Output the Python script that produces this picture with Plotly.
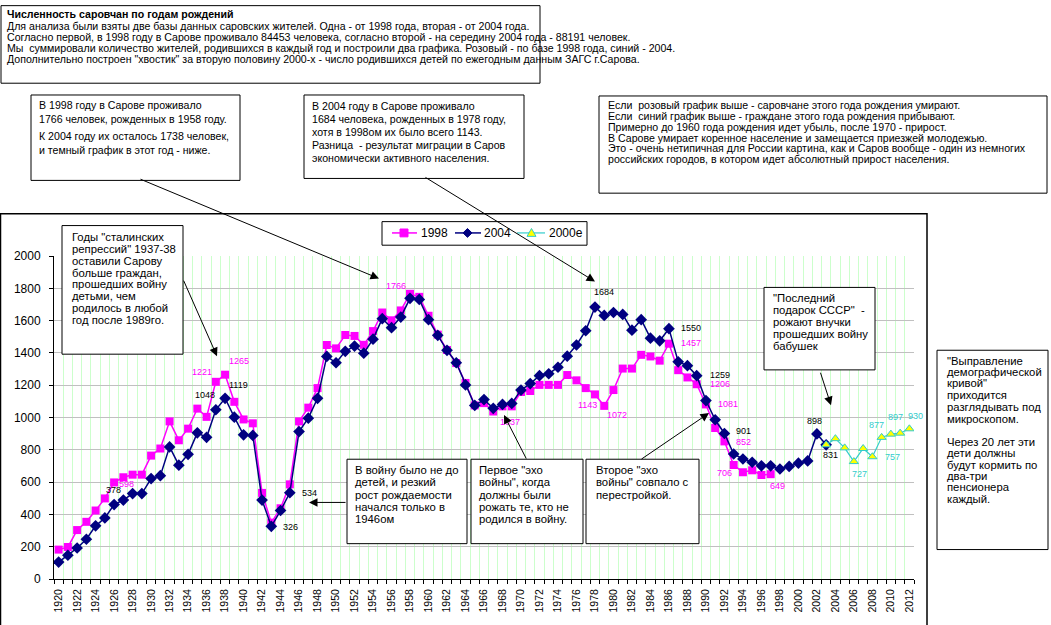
import plotly.graph_objects as go

# ---------------- data ----------------
years_1998 = list(range(1920, 1998))
values_1998 = [182, 198, 303, 354, 424, 499, 598, 630, 646, 646,
               764, 808, 976, 859, 931, 1055, 1004, 1221, 1265, 1097,
               988, 964, 533, 349, 438, 586, 976, 1061, 1182, 1449,
               1428, 1511, 1505, 1450, 1535, 1650, 1602, 1663, 1766, 1747,
               1630, 1513, 1418, 1337, 1214, 1075, 1089, 1037, 1069, 1069,
               1158, 1164, 1202, 1202, 1202, 1263, 1230, 1182, 1143, 1072,
               1170, 1303, 1303, 1388, 1378, 1352, 1457, 1293, 1248, 1206,
               1081, 935, 852, 706, 661, 673, 644, 649]

years_2004 = list(range(1920, 2004))
values_2004 = [105, 147, 192, 246, 329, 378, 461, 489, 529, 529,
               622, 640, 818, 705, 772, 905, 877, 1048, 1119, 1002,
               893, 889, 489, 326, 424, 534, 913, 996, 1119, 1378,
               1339, 1410, 1442, 1398, 1485, 1612, 1556, 1622, 1738, 1731,
               1606, 1509, 1416, 1339, 1202, 1075, 1111, 1057, 1081, 1087,
               1170, 1210, 1259, 1271, 1311, 1380, 1449, 1537, 1684, 1632,
               1650, 1638, 1541, 1606, 1491, 1475, 1550, 1345, 1321, 1259,
               1105, 986, 901, 774, 743, 723, 701, 701, 681, 697,
               717, 731, 898, 831]

years_2000e = list(range(2003, 2013))
values_2000e = [831, 869, 812, 727, 808, 757, 877, 897, 903, 930]

series_names = ["1998", "2004", "2000e"]

tick_years = list(range(1920, 2013, 2))
tick_labels = [str(y) for y in tick_years]
y_ticks = list(range(0, 2001, 200))

# years that carry a value label
label_years_1998 = [1926, 1937, 1938, 1958, 1967, 1978, 1979, 1986, 1989, 1990, 1992, 1993, 1997]
label_years_2004 = [1925, 1937, 1938, 1943, 1945, 1978, 1986, 1989, 1992, 2002, 2003]
label_years_2000e = [2006, 2008, 2009, 2010, 2012]

# ---------------- layout helpers (pixel geometry) ----------------
L, R, T, B = 54, 914, 256, 585
W, H = 1051, 625
FONT = "Liberation Sans, Arial, sans-serif"


def px(x):
    return (x - L) / (R - L)


def py(y):
    return (B - y) / (B - T)


# label offsets (pixels: dx right, dy up)
off_1998 = [(12, -2), (-14, 10), (14, 14), (-14, 8), (17, -10), (-7, -11), (13, -9),
            (22, 1), (23, 0), (22, 0), (19, -1), (-9, -8), (7, -12)]
off_2004 = [(9, 28), (-11, 15), (13, 13), (19, -1), (20, 0), (9, 15), (22, 1),
            (23, 1), (19, 2), (-2, 13), (4, -10)]
off_2000e = [(6, -12), (20, 0), (-5, 12), (5, 17), (6, 13)]

PINK = "#FF00FF"
NAVY = "#000080"
TEAL = "#33CCCC"
YELLOW = "#FFFF00"

fig = go.Figure()
fig.add_trace(go.Scatter(x=years_1998, y=values_1998, name=series_names[0], mode="lines+markers",
                         line=dict(color=PINK, width=1.5), showlegend=False,
                         marker=dict(symbol="square", size=8, color=PINK)))
fig.add_trace(go.Scatter(x=years_2004, y=values_2004, name=series_names[1], mode="lines+markers",
                         line=dict(color=NAVY, width=1.5), showlegend=False,
                         marker=dict(symbol="diamond", size=9, color=NAVY)))
fig.add_trace(go.Scatter(x=years_2000e, y=values_2000e, name=series_names[2], mode="lines+markers",
                         line=dict(color=TEAL, width=1.2), showlegend=False,
                         marker=dict(symbol="triangle-up", size=8, color=YELLOW,
                                     line=dict(color=TEAL, width=1))))

annotations = []
shapes = []


def add_labels(years, values, label_years, offsets, color):
    lookup = dict(zip(years, values))
    for yr, (dx, dy) in zip(label_years, offsets):
        v = lookup[yr]
        annotations.append(dict(x=yr, y=v, xref="x", yref="y", text=str(v), showarrow=False,
                                xshift=dx, yshift=dy, font=dict(family=FONT, size=9, color=color)))


add_labels(years_1998, values_1998, label_years_1998, off_1998, PINK)
add_labels(years_2004, values_2004, label_years_2004, off_2004, "black")
add_labels(years_2000e, values_2000e, label_years_2000e, off_2000e, TEAL)


def box(x0, y0, x1, y1, width=1):
    shapes.append(dict(type="rect", xref="paper", yref="paper",
                       x0=px(x0), x1=px(x1), y0=py(y1), y1=py(y0),
                       line=dict(color="black", width=width), fillcolor="white", layer="above"))


def text_lines(x, ys, lines, size, bold_first=False):
    for i, (yy, t) in enumerate(zip(ys, lines)):
        if not t:
            continue
        txt = "<b>%s</b>" % t if (bold_first and i == 0) else t
        annotations.append(dict(x=px(x - 2), y=py(yy), xref="paper", yref="paper", text=txt,
                                showarrow=False, xanchor="left", yanchor="middle",
                                font=dict(family=FONT, size=size, color="black")))


def arrow(tail, tip):
    annotations.append(dict(x=px(tip[0]), y=py(tip[1]), xref="paper", yref="paper", text="",
                            showarrow=True, axref="pixel", ayref="pixel",
                            ax=tail[0] - tip[0], ay=tail[1] - tip[1],
                            arrowhead=2, arrowsize=1.7, arrowwidth=1, arrowcolor="black",
                            standoff=0, startstandoff=0))


def poly(points, fill, line_color, lw=1):
    path = "M " + " L ".join("%.5f,%.5f" % (px(a), py(b)) for a, b in points) + " Z"
    shapes.append(dict(type="path", xref="paper", yref="paper", path=path, fillcolor=fill,
                       line=dict(color=line_color, width=lw), layer="above"))


SMALL = 10.6
MID = 11.3

# chart border
shapes.append(dict(type="rect", xref="paper", yref="paper", x0=px(0.5), x1=px(927),
                   y0=py(640), y1=py(213), line=dict(color="black", width=1.5), layer="above"))

# ---- legend (drawn) ----
box(382, 221, 587, 245)
LY = 232.5
for (x0, x1), col, lw in [((392, 417), PINK, 1.5), ((455, 481), NAVY, 1.5), ((517, 545), TEAL, 1.2)]:
    shapes.append(dict(type="line", xref="paper", yref="paper", x0=px(x0), x1=px(x1),
                       y0=py(LY), y1=py(LY), line=dict(color=col, width=lw), layer="above"))
poly([(400, LY - 4), (408, LY - 4), (408, LY + 4), (400, LY + 4)], PINK, PINK)
poly([(467.5, LY - 4.5), (472, LY), (467.5, LY + 4.5), (463, LY)], NAVY, NAVY)
poly([(531.5, LY - 4.5), (536, LY + 3.5), (527, LY + 3.5)], YELLOW, TEAL)
for xt, name in zip([421, 484, 549], series_names):
    annotations.append(dict(x=px(xt - 2), y=py(LY), xref="paper", yref="paper", text=name,
                            showarrow=False, xanchor="left", yanchor="middle",
                            font=dict(family=FONT, size=12, color="black")))

# top info box
box(1, 1, 540, 80)
text_lines(7, [10, 22, 33, 44.5, 55], [
    "Численность саровчан по годам рождений",
    "Для анализа были взяты две базы данных саровских жителей. Одна - от 1998 года, вторая - от 2004 года.",
    "Согласно первой, в 1998 году в Сарове проживало 84453 человека, согласно второй - на середину 2004 года - 88191 человек.",
    "Мы  суммировали количество жителей, родившихся в каждый год и построили два графика. Розовый - по базе 1998 года, синий - 2004.",
    "Дополнительно построен \"хвостик\" за вторую половину 2000-х - число родившихся детей по ежегодным данным ЗАГС г.Сарова.",
], SMALL, bold_first=True)

# box 1
box(31, 92, 240, 179)
text_lines(39, [102, 116, 134, 148], [
    "В 1998 году в Сарове проживало",
    "1766 человек, рожденных в 1958 году.",
    "К 2004 году их осталось 1738 человек,",
    "и темный график в этот год - ниже.",
], SMALL)
arrow((139, 179), (379, 279))

# box 2
box(304, 92, 524, 177)
text_lines(312, [103, 116.5, 130, 143, 156.5], [
    "В 2004 году в Сарове проживало",
    "1684 человека, рожденных в 1978 году,",
    "хотя в 1998ом их было всего 1143.",
    "Разница  - результат миграции в Саров",
    "экономически активного населения.",
], SMALL)
arrow((424, 177), (595, 282))

# box 4
box(599, 93, 1047, 192)
text_lines(608, [102.5, 113.5, 124.5, 135.5, 146, 157], [
    "Если  розовый график выше - саровчане этого года рождения умирают.",
    "Если  синий график выше - граждане этого года рождения прибывают.",
    "Примерно до 1960 года рождения идет убыль, после 1970 - прирост.",
    "В Сарове умирает коренное население и замещается приезжей молодежью.",
    "Это - очень нетипичная для России картина, как и Саров вообще - один из немногих",
    "российских городов, в котором идет абсолютный прирост населения.",
], SMALL)

# box 5
box(62, 225, 183, 356)
text_lines(72, [237, 249, 261, 273, 285, 297, 309, 321.5], [
    "Годы \"сталинских", "репрессий\" 1937-38", "оставили Сарову", "больше граждан,",
    "прошедших войну", "детьми, чем", "родилось в любой", "год после 1989го.",
], MID)
arrow((183, 281), (217, 358))

# box 6
box(347, 463, 467, 549)
text_lines(355, [474, 486.5, 499, 511.5, 524], [
    "В войну было не до", "детей, и резкий", "рост рождаемости", "начался только в", "1946ом",
], MID)
arrow((347, 507), (309, 507))

# box 7
box(471, 463, 583, 549)
text_lines(479, [474, 486.5, 499, 511.5, 524], [
    "Первое \"эхо", "войны\", когда", "должны были", "рожать те, кто не", "родился в войну.",
], MID)
arrow((527, 463), (504, 418))

# box 8
box(586, 463, 699, 549)
text_lines(596, [474, 486.5, 499], [
    "Второе \"эхо", "войны\" совпало с", "перестройкой.",
], MID)
arrow((640, 463), (709, 416))

# box 9
box(764, 288, 875, 372)
text_lines(773, [299, 310.5, 323, 335.5, 347.5], [
    "\"Последний", "подарок СССР\"  -", "рожают внучки", "прошедших войну", "бабушек",
], MID)
arrow((820, 374), (831, 408))

# box 10
box(937, 352, 1048, 555)
text_lines(947, [363, 374.5, 385.5, 398, 410, 422, 434, 445, 457, 468.5, 480, 491.5, 503.5], [
    "\"Выправление", "демографической", "кривой\"", "приходится", "разглядывать под",
    "микроскопом.", "", "Через 20 лет эти", "дети должны", "будут кормить по",
    "два-три", "пенсионера", "каждый.",
], MID)

fig.update_layout(
    width=W, height=H, autosize=False,
    margin=dict(l=L, r=W - R, t=T, b=H - B, pad=0),
    paper_bgcolor="white", plot_bgcolor="white",
    font=dict(family=FONT, size=12, color="black"),
    showlegend=False,
    xaxis=dict(range=[1919.5, 2012.5], tickmode="array", tickvals=tick_years, ticktext=tick_labels,
               tickangle=-90, ticks="", showgrid=False, zeroline=False,
               showline=True, linecolor="black", linewidth=1,
               tickfont=dict(family=FONT, size=10.5, color="black"), ticklabelstandoff=5,
               minor=dict(tickmode="linear", tick0=1919.5, dtick=1, ticks="outside", ticklen=4,
                          tickcolor="black", showgrid=True, gridcolor="#CCFFCC", gridwidth=1)),
    yaxis=dict(range=[0, 2000], tickmode="array", tickvals=y_ticks, ticks="outside", ticklen=4,
               tickcolor="black", showline=True, linecolor="black", linewidth=1,
               gridcolor="#C0C0C0", gridwidth=1, zeroline=False,
               tickfont=dict(family=FONT, size=12, color="black"), ticklabelstandoff=6),
    shapes=shapes,
    annotations=annotations,
)

fig.write_html("out.html", config={"displayModeBar": False},
               post_script="document.body.style.margin='0px';")
